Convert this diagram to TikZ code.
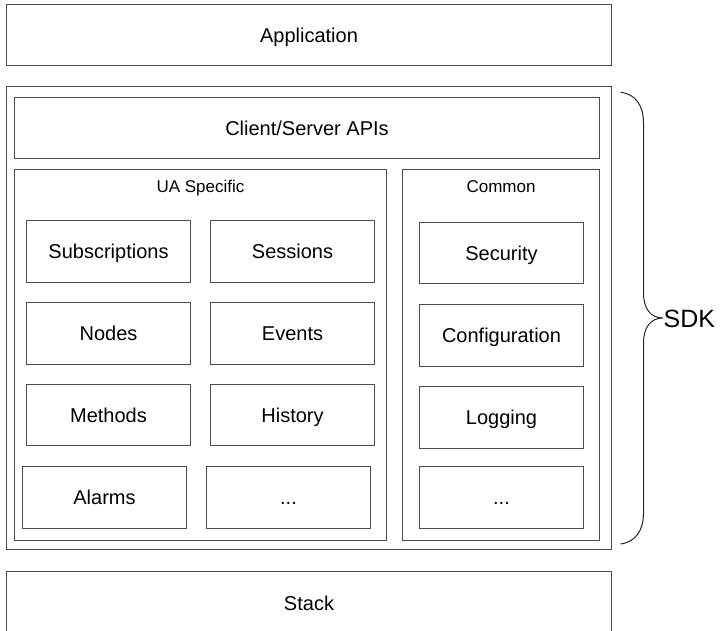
\documentclass[tikz,border=0pt]{standalone}
\usepackage{fontspec}
\setmainfont{Liberation Sans}
\tikzset{
  panel/.style={draw=black!70, line width=1pt, rectangle, inner sep=0pt},
  box/.style={panel, font=\fontsize{20}{24}\selectfont, text height=14.3pt, text depth=0pt},
  unit/.style={box, minimum width=164pt, minimum height=61.5pt},
  caption/.style={inner sep=0pt, font=\fontsize{17}{20}\selectfont, text height=12.2pt, text depth=0pt}
}
\begin{document}
\begin{tikzpicture}[x=1pt,y=-1pt]
	\useasboundingbox (0,0) rectangle (725,631);
	\node[box, minimum width=605pt, minimum height=61.5pt] (app) at (309,35.2) {Application};
	\node[panel, minimum width=605pt, minimum height=462.5pt] (sdkpanel) at (309,317.8) {};
	\node[box, minimum width=585pt, minimum height=61pt] (api) at (307,128) {Client/Server APIs};
	\node[panel, minimum width=372pt, minimum height=371.5pt] (uapanel) at (200.5,354.8) {};
	\node[panel, minimum width=197pt, minimum height=371.5pt] (companel) at (501,354.8) {};
	\node[caption] (ualabel) at (200.5,186.7) {UA Specific};
	\node[caption] (comlabel) at (501,186.7) {Common};
	\node[unit] (subs) at (108.5,251.3) {Subscriptions};
	\node[unit] (sess) at (292.5,251.3) {Sessions};
	\node[unit] (nodes) at (108.5,333.4) {Nodes};
	\node[unit] (events) at (292.5,333.4) {Events};
	\node[unit] (methods) at (108.5,415.2) {Methods};
	\node[unit] (history) at (292.5,415.2) {History};
	\node[unit] (alarms) at (104.5,497.5) {Alarms};
	\node[unit] (uamore) at (288.5,497.5) {...};
	\node[unit] (security) at (501.5,253.2) {Security};
	\node[unit] (config) at (501.5,335.5) {Configuration};
	\node[unit] (logging) at (501.5,417.5) {Logging};
	\node[unit] (commore) at (501.5,497.5) {...};
	\node[box, minimum width=605pt, minimum height=63pt] (stack) at (309,603.2) {Stack};
	\coordinate (bracetop) at (620.5,92.3);
	\coordinate (bracebot) at (620.5,544);
	\coordinate (bracetip) at (663,318);
	\draw[line width=1pt, black!85] (bracetop) .. controls (636,94) and (643.5,106) .. (643.5,123) -- (643.5,293)
		.. controls (643.5,309) and (651,318) .. (bracetip)
		.. controls (651,318) and (643.5,327) .. (643.5,343) -- (643.5,513)
		.. controls (643.5,530) and (636,542) .. (bracebot);
	\node[anchor=west, inner sep=0pt, font=\fontsize{25}{30}\selectfont, text height=18pt, text depth=0pt] (sdk) at (663.5,318) {SDK};
\end{tikzpicture}
\end{document}
